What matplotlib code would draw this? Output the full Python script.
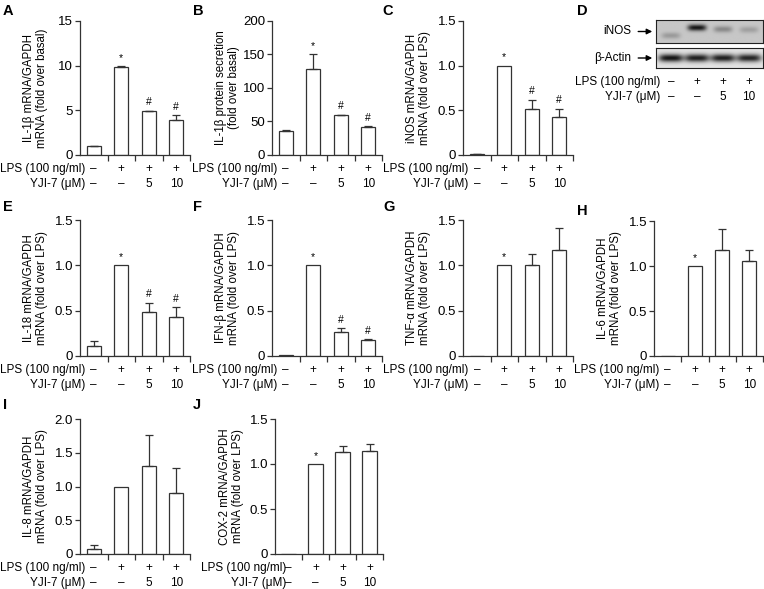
import numpy as np
import matplotlib
matplotlib.use('Agg')
import matplotlib.pyplot as plt

plt.rcParams['font.family'] = ['Liberation Sans', 'DejaVu Sans']

W, H = 764, 589
EDGE = '#333333'

# row labels under every panel
lps_row = ['–', '+', '+', '+']
yji_row = ['–', '–', '5', '10']

# bar values (mean, upper error)
a_vals = [1.0, 9.85, 4.9, 3.95]
a_err = [0.05, 0.08, 0.08, 0.5]
b_vals = [36, 128, 59, 42]
b_err = [1, 22, 1, 1]
c_vals = [0.01, 1.0, 0.51, 0.42]
c_err = [0.005, 0.0, 0.11, 0.1]
e_vals = [0.11, 1.0, 0.48, 0.43]
e_err = [0.055, 0.0, 0.11, 0.11]
f_vals = [0.01, 1.0, 0.27, 0.18]
f_err = [0.0, 0.0, 0.035, 0.005]
g_vals = [0.005, 1.0, 1.0, 1.17]
g_err = [0.0, 0.0, 0.12, 0.24]
h_vals = [0.0, 1.0, 1.18, 1.06]
h_err = [0.0, 0.0, 0.23, 0.12]
i_vals = [0.07, 1.0, 1.31, 0.9]
i_err = [0.07, 0.0, 0.45, 0.37]
j_vals = [0.0, 1.0, 1.13, 1.15]
j_err = [0.0, 0.0, 0.07, 0.07]

sig_hash = ['', '*', '#', '#']
sig_star = ['', '*', '', '']
sig_none = ['', '', '', '']

# western blot band intensities (panel D)
inos_level = [0.25, 1.0, 0.35, 0.22]
inos_pos = [0.68, 0.33, 0.4, 0.42]
actin_level = [1.0, 0.95, 0.95, 0.92]
actin_pos = [0.5, 0.5, 0.5, 0.5]

fig = plt.figure(figsize=(W / 100, H / 100), dpi=100)


def px_axes(l, t, r, b):
    return fig.add_axes([l / W, 1 - b / H, (r - l) / W, (b - t) / H])


def row_labels(ax, xs, gap):
    for xi, s1, s2 in zip(xs, lps_row, yji_row):
        ax.annotate(s1, xy=(xi, 0), xycoords=('data', 'axes fraction'), xytext=(0, -14),
                    textcoords='offset pixels', ha='center', va='center', fontsize=8.5)
        ax.annotate(s2, xy=(xi, 0), xycoords=('data', 'axes fraction'), xytext=(0, -29),
                    textcoords='offset pixels', ha='center', va='center', fontsize=8.5)
    ax.annotate('LPS (100 ng/ml)', xy=(xs[0], 0), xycoords=('data', 'axes fraction'),
                xytext=(-gap, -14), textcoords='offset pixels', ha='right', va='center', fontsize=8.5)
    ax.annotate('YJI-7 (μM)', xy=(xs[0], 0), xycoords=('data', 'axes fraction'),
                xytext=(-gap, -29), textcoords='offset pixels', ha='right', va='center', fontsize=8.5)


def bar_panel(box, vals, errs, marks, yticks, fmt, ylabel, gap=8):
    ax = px_axes(*box)
    x = np.arange(len(vals))
    vals = np.array(vals, dtype=float)
    errs = np.array(errs, dtype=float)
    ax.bar(x, vals, width=0.52, color='white', edgecolor=EDGE, linewidth=0.9, zorder=2)
    m = errs > 0
    ax.errorbar(x[m], vals[m], yerr=[np.zeros(m.sum()), errs[m]], fmt='none', ecolor=EDGE,
                elinewidth=0.9, capsize=3, capthick=0.9, zorder=3)
    ymax = yticks[-1]
    for xi, t, s in zip(x, vals + errs, marks):
        if s:
            ax.text(xi, t + 0.025 * ymax, s, ha='center', va='bottom', fontsize=7.5)
    ax.set_xlim(-0.5, len(vals) - 0.5)
    ax.set_ylim(0, ymax)
    ax.set_yticks(yticks)
    ax.set_yticklabels(['0' if t == 0 else fmt.format(t) for t in yticks])
    ax.set_xticks(x + 0.5)
    ax.set_xticklabels([])
    for sp in ['top', 'right']:
        ax.spines[sp].set_visible(False)
    for sp in ['left', 'bottom']:
        ax.spines[sp].set_color(EDGE)
        ax.spines[sp].set_linewidth(0.9)
    ax.spines['left'].set_zorder(4)
    ax.tick_params(direction='out', length=3.5, width=0.9, color=EDGE, labelsize=9.5, pad=1.5)
    ax.tick_params(axis='x', length=4.5)
    ax.set_ylabel(ylabel, fontsize=8.3, linespacing=1.1)
    ax.yaxis.set_label_coords(-0.29, 0.5)
    row_labels(ax, x, gap)
    return ax


def letter(x, y, s):
    fig.text(x / W, 1 - y / H, s, fontweight='bold', fontsize=10.5, ha='left', va='top')


t15 = [0, 0.5, 1.0, 1.5]
lps_lab = 'mRNA (fold over LPS)'

bar_panel((80, 21, 190, 155), a_vals, a_err, sig_hash, [0, 5, 10, 15], '{:g}',
          'IL-1β mRNA/GAPDH\nmRNA (fold over basal)')
bar_panel((272, 21, 382, 155), b_vals, b_err, sig_hash, [0, 50, 100, 150, 200], '{:g}',
          'IL-1β protein secretion\n(fold over basal)')
bar_panel((463, 21, 573, 155), c_vals, c_err, sig_hash, t15, '{:.1f}',
          'iNOS mRNA/GAPDH\n' + lps_lab)
bar_panel((80, 220, 190, 356), e_vals, e_err, sig_hash, t15, '{:.1f}',
          'IL-18 mRNA/GAPDH\n' + lps_lab)
bar_panel((272, 220, 382, 356), f_vals, f_err, sig_hash, t15, '{:.1f}',
          'IFN-β mRNA/GAPDH\n' + lps_lab)
bar_panel((463, 220, 573, 356), g_vals, g_err, sig_star, t15, '{:.1f}',
          'TNF-α mRNA/GAPDH\n' + lps_lab)
bar_panel((654, 221, 763, 356), h_vals, h_err, sig_star, t15, '{:.1f}',
          'IL-6 mRNA/GAPDH\n' + lps_lab)
bar_panel((80, 419, 190, 554), i_vals, i_err, sig_none, [0, 0.5, 1.0, 1.5, 2.0], '{:.1f}',
          'IL-8 mRNA/GAPDH\n' + lps_lab)
bar_panel((275, 419, 383, 554), j_vals, j_err, sig_star, t15, '{:.1f}',
          'COX-2 mRNA/GAPDH\n' + lps_lab, gap=2)

# panel D: western blot
X0, X1 = -0.57, 3.53


def blot_strip(box, levels, centers, bg, wid, hgt, name):
    ax = px_axes(*box)
    xs = np.linspace(X0, X1, 260)
    ys = np.linspace(0, 1, 60)
    dens = np.zeros((ys.size, xs.size))
    for lane, (lev, c) in enumerate(zip(levels, centers)):
        dens += lev * np.exp(-((xs - lane) / wid) ** 4)[None, :] * np.exp(-((ys - c) / hgt) ** 2)[:, None]
    img = bg - (bg - 0.08) * np.clip(dens, 0, 1)
    ax.imshow(img, cmap='gray', vmin=0, vmax=1, extent=(X0, X1, 1, 0), aspect='auto',
              interpolation='bilinear')
    ax.set_xlim(X0, X1)
    ax.set_ylim(1, 0)
    ax.set_xticks([])
    ax.set_yticks([])
    for sp in ax.spines.values():
        sp.set_color('#222222')
        sp.set_linewidth(0.8)
    ax.annotate(name, xy=(-0.035, 0.5), xycoords='axes fraction', xytext=(-21, 0),
                textcoords='offset pixels', ha='right', va='center', fontsize=8.5,
                arrowprops=dict(arrowstyle='-|>', color='black', lw=1.0, shrinkA=3, shrinkB=0,
                                mutation_scale=8))
    return ax


blot_strip((656, 20, 763, 43), inos_level, inos_pos, 0.78, 0.36, 0.14, 'iNOS')
ax_act = blot_strip((656, 48, 763, 68), actin_level, actin_pos, 0.89, 0.47, 0.2, 'β-Actin')
row_labels(ax_act, np.arange(4), 11)

letter(3, 4, 'A')
letter(193, 4, 'B')
letter(382, 4, 'C')
letter(577, 4, 'D')
letter(3, 200, 'E')
letter(193, 200, 'F')
letter(383, 200, 'G')
letter(577, 204, 'H')
letter(3, 398, 'I')
letter(193, 398, 'J')

fig.savefig('out.png', dpi=100)
